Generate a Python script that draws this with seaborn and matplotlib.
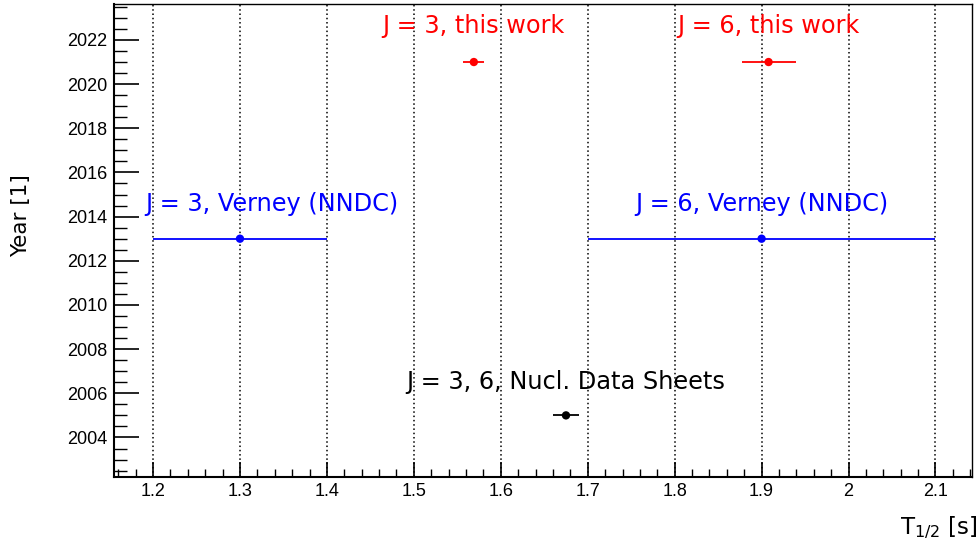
import matplotlib
matplotlib.use("Agg")
import matplotlib.pyplot as plt
import seaborn as sns
import pandas as pd
from matplotlib.ticker import MultipleLocator, FuncFormatter

# ---- data ----
labels = ["J = 3, this work", "J = 6, this work",
          "J = 3, Verney (NNDC)", "J = 6, Verney (NNDC)",
          "J = 3, 6, Nucl. Data Sheets"]
halflife = [1.569, 1.908, 1.30, 1.90, 1.675]
err_lo = [0.012, 0.030, 0.10, 0.20, 0.015]
err_hi = [0.012, 0.032, 0.10, 0.20, 0.015]
years = [2021, 2021, 2013, 2013, 2005]
groups = ["this work", "this work", "Verney", "Verney", "NDS"]
label_x = [1.569, 1.908, 1.3362, 1.9006, 1.675]
label_y = [2022.3, 2022.3, 2014.25, 2014.25, 2006.2]
palette = {"this work": "#ff0000", "Verney": "#0000ff", "NDS": "#000000"}

df = pd.DataFrame({"T": halflife, "lo": err_lo, "hi": err_hi,
                   "year": years, "group": groups,
                   "label": labels, "lx": label_x, "ly": label_y})

sns.set_theme(style="white")
plt.rcParams["font.family"] = ["DejaVu Sans"]

fig = plt.figure(figsize=(9.79, 5.47), dpi=100)
ax = fig.add_axes([114 / 979, 1 - 477 / 547, (972 - 114) / 979, (477 - 3.5) / 547])

# vertical dotted grid at major x ticks
for xv in [1.2, 1.3, 1.4, 1.5, 1.6, 1.7, 1.8, 1.9, 2.0, 2.1]:
    ax.axvline(xv, color="black", lw=1.1, ls=(0, (1, 1.8)), zorder=0)

# error bars
for _, r in df.iterrows():
    ax.hlines(r["year"], r["T"] - r["lo"], r["T"] + r["hi"],
              color=palette[r["group"]], lw=1.3, zorder=2)

sns.scatterplot(data=df, x="T", y="year", hue="group", palette=palette,
                s=36, edgecolor="none", legend=False, ax=ax, zorder=3)

for _, r in df.iterrows():
    ax.text(r["lx"], r["ly"], r["label"], color=palette[r["group"]],
            fontsize=17.3, ha="center", va="baseline", family="DejaVu Sans")

ax.set_xlim(1.1551, 2.142)
ax.set_ylim(2002.21, 2023.65)

ax.xaxis.set_major_locator(MultipleLocator(0.1))
ax.xaxis.set_minor_locator(MultipleLocator(0.02))
ax.yaxis.set_major_locator(MultipleLocator(2))
ax.yaxis.set_minor_locator(MultipleLocator(0.5))
ax.xaxis.set_major_formatter(FuncFormatter(lambda v, p: "%g" % round(v, 3)))
ax.yaxis.set_major_formatter(FuncFormatter(lambda v, p: "%d" % round(v)))

ax.tick_params(axis="x", which="major", direction="in", length=11, width=1.2,
               pad=4.5, labelsize=13, bottom=True, top=False, color="black")
ax.tick_params(axis="x", which="minor", direction="in", length=5.5, width=1.0,
               bottom=True, top=False, color="black")
ax.tick_params(axis="y", which="major", direction="in", length=18, width=1.2,
               pad=4.5, labelsize=13, left=True, right=False, color="black")
ax.tick_params(axis="y", which="minor", direction="in", length=9.5, width=1.0,
               left=True, right=False, color="black")
for lab in ax.get_xticklabels() + ax.get_yticklabels():
    lab.set_family("Liberation Sans")
    lab.set_color("black")

for side, sp in ax.spines.items():
    sp.set_visible(True)
    sp.set_color("black")
    sp.set_linewidth(1.5 if side in ("left", "bottom") else 1.0)

ax.set_xlabel(r"T$_{1/2}$ [s]", fontsize=16.5, ha="right", va="center", color="black")
ax.xaxis.set_label_coords(1.006, -0.108)
ax.set_ylabel("Year [1]", fontsize=15.5, va="center", ha="center", color="black")
ax.yaxis.set_label_coords(-0.108, 0.553)

fig.savefig("out.png", dpi=100)
